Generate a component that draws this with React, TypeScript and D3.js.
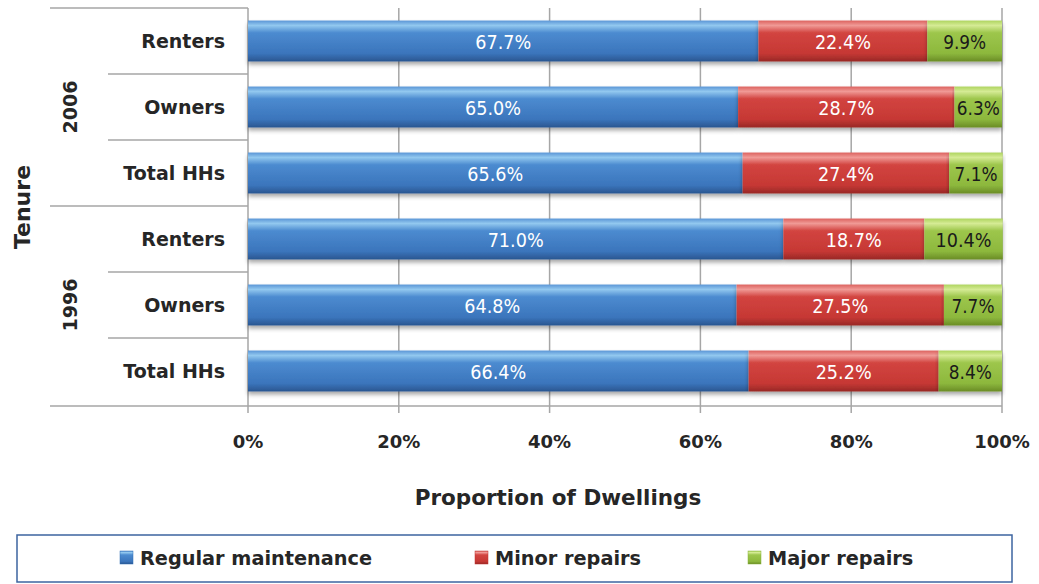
import { scaleBand, scaleLinear } from "d3";

// rows top to bottom
const years = ["2006", "1996"];
const tenures = ["Renters", "Owners", "Total HHs"];
const seriesNames = ["Regular maintenance", "Minor repairs", "Major repairs"];
// values per row: 2006 Renters, Owners, Total HHs, 1996 Renters, Owners, Total HHs
const regular = [67.7, 65.0, 65.6, 71.0, 64.8, 66.4];
const minor = [22.4, 28.7, 27.4, 18.7, 27.5, 25.2];
const major = [9.9, 6.3, 7.1, 10.4, 7.7, 8.4];
const xTicks = [0, 20, 40, 60, 80, 100];

const W = 1039;
const H = 584;
const FONT = "'DejaVu Sans', Verdana, sans-serif";

const rows = years.flatMap((yr) => tenures.map((t) => `${yr}|${t}`));
const seriesData = [regular, minor, major];
const gradIds = ["gBlue", "gRed", "gGreen"];
const labelColors = ["#ffffff", "#ffffff", "#1a1a1a"];
const legendSwatch = ["#2f6db5", "#c0322e", "#86b23a"];

const App = () => {
  const x = scaleLinear().domain([0, 100]).range([248, 1002]);
  const y = scaleBand<string>().domain(rows).range([8, 404]).paddingInner(0.38).paddingOuter(0.19);
  const step = y.step();
  const top = 8;
  const bottom = 406;

  const legendX = [120, 475, 748];

  return (
    <svg width={W} height={H} style={{ position: "absolute", left: 0, top: 0 }}>
      <defs>
        <linearGradient id="gBlue" x1="0" x2="0" y1="0" y2="1">
          <stop offset="0" stopColor="#5a95d6" />
          <stop offset="0.12" stopColor="#92c8ef" />
          <stop offset="0.3" stopColor="#4c8bd0" />
          <stop offset="0.8" stopColor="#3b75bc" />
          <stop offset="1" stopColor="#2a5690" />
        </linearGradient>
        <linearGradient id="gRed" x1="0" x2="0" y1="0" y2="1">
          <stop offset="0" stopColor="#dc625e" />
          <stop offset="0.12" stopColor="#f09a96" />
          <stop offset="0.3" stopColor="#d24440" />
          <stop offset="0.8" stopColor="#c63834" />
          <stop offset="1" stopColor="#982826" />
        </linearGradient>
        <linearGradient id="gGreen" x1="0" x2="0" y1="0" y2="1">
          <stop offset="0" stopColor="#aed45e" />
          <stop offset="0.12" stopColor="#d5eb95" />
          <stop offset="0.3" stopColor="#9dc64c" />
          <stop offset="0.8" stopColor="#8db83d" />
          <stop offset="1" stopColor="#6a8c26" />
        </linearGradient>
        <filter id="shadow" x="-5%" y="-20%" width="110%" height="160%">
          <feDropShadow dx="0" dy="3" stdDeviation="2" floodColor="#000" floodOpacity="0.35" />
        </filter>
      </defs>

      {/* gridlines */}
      {xTicks.map((t) => (
        <line key={t} x1={x(t)} x2={x(t)} y1={top} y2={bottom + 7} stroke="#a6a6a6" strokeWidth={1.5} />
      ))}

      {/* category frame lines */}
      {rows.map((r, i) => {
        if (i === 0) return null;
        const yy = top + step * i;
        const x0 = i % tenures.length === 0 ? 50 : 108;
        return <line key={r} x1={x0} x2={x(0)} y1={yy} y2={yy} stroke="#a6a6a6" strokeWidth={1.5} />;
      })}
      <line x1={50} x2={x(0)} y1={top} y2={top} stroke="#a6a6a6" strokeWidth={1.5} />
      <line x1={50} x2={x(100)} y1={bottom} y2={bottom} stroke="#a6a6a6" strokeWidth={1.5} />

      {/* bars */}
      {rows.map((r, i) => {
        let acc = 0;
        return (
          <g key={r}>
            {seriesData.map((s, k) => {
              const v = s[i];
              const x0 = x(acc);
              const x1 = x(acc + v);
              acc += v;
              const label = `${v.toFixed(1)}%`;
              const nDigits = label.length - 2;
              return (
                <g key={k}>
                  <rect
                    x={x0}
                    y={y(r)}
                    width={x1 - x0}
                    height={y.bandwidth()}
                    fill={`url(#${gradIds[k]})`}
                    filter="url(#shadow)"
                  />
                  <text
                    x={(x0 + x1) / 2}
                    y={(y(r) ?? 0) + y.bandwidth() / 2}
                    dy="0.38em"
                    textAnchor="middle"
                    fontFamily={FONT}
                    fontSize={20}
                    textLength={13 * nDigits + 17}
                    lengthAdjust="spacingAndGlyphs"
                    fill={labelColors[k]}
                  >
                    {label}
                  </text>
                </g>
              );
            })}
          </g>
        );
      })}

      {/* category labels */}
      {rows.map((r) => (
        <text
          key={r}
          x={225}
          y={(y(r) ?? 0) + y.bandwidth() / 2}
          dy="0.36em"
          textAnchor="end"
          fontFamily={FONT}
          fontWeight="bold"
          fontSize={19}
          fill="#262626"
        >
          {r.split("|")[1]}
        </text>
      ))}
      {years.map((yr, j) => {
        const cy = top + step * tenures.length * (j + 0.5);
        return (
          <text
            key={yr}
            transform={`translate(70,${cy}) rotate(-90)`}
            dy="0.36em"
            textAnchor="middle"
            fontFamily={FONT}
            fontWeight="bold"
            fontSize={19}
            fill="#262626"
          >
            {yr}
          </text>
        );
      })}
      <text
        transform={`translate(22,${(top + bottom) / 2}) rotate(-90)`}
        dy="0.36em"
        textAnchor="middle"
        fontFamily={FONT}
        fontWeight="bold"
        fontSize={22}
        fill="#262626"
      >
        Tenure
      </text>

      {/* x tick labels */}
      {xTicks.map((t) => (
        <text
          key={t}
          x={x(t)}
          y={442}
          dy="0.36em"
          textAnchor="middle"
          fontFamily={FONT}
          fontWeight="bold"
          fontSize={18}
          fill="#262626"
        >
          {t}%
        </text>
      ))}
      <text x={558} y={497} dy="0.36em" textAnchor="middle" fontFamily={FONT} fontWeight="bold" fontSize={21.5} fill="#262626">
        Proportion of Dwellings
      </text>

      {/* legend */}
      <rect x={17} y={535} width={995} height={47} fill="#fff" stroke="#3d64a0" strokeWidth={1.5} />
      {seriesNames.map((n, k) => (
        <g key={n}>
          <rect x={legendX[k]} y={551} width={13} height={13} fill={`url(#${gradIds[k]})`} stroke={legendSwatch[k]} strokeWidth={0.5} />
          <text x={legendX[k] + 20} y={558} dy="0.36em" fontFamily={FONT} fontWeight="bold" fontSize={19.3} fill="#262626">
            {n}
          </text>
        </g>
      ))}
    </svg>
  );
};

export default App;
